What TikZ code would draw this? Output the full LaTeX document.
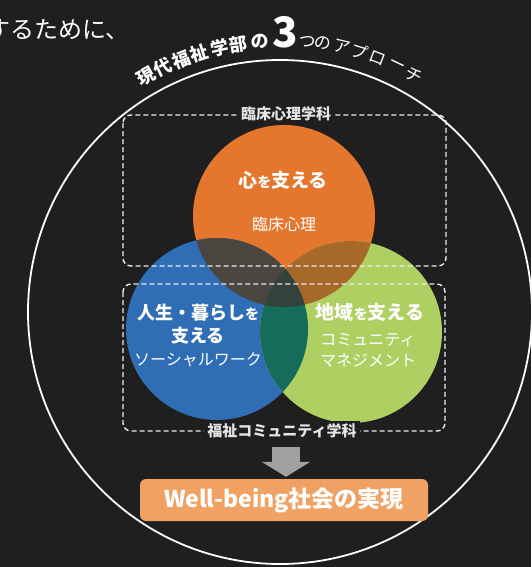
\documentclass[tikz,border=0pt]{standalone}
\usepackage{fontspec}
\setmainfont{Noto Sans CJK JP}
\usetikzlibrary{positioning, arrows.meta}

\definecolor{bgdark}{HTML}{1F1F1F}
\definecolor{kokoroOrange}{HTML}{E4762E}
\definecolor{kurashiBlue}{HTML}{2F6DB5}
\definecolor{chiikiGreen}{HTML}{AED062}
\definecolor{obMix}{HTML}{4B4540}
\definecolor{ogMix}{HTML}{A7692A}
\definecolor{bgMix}{HTML}{166C5A}
\definecolor{allMix}{HTML}{33423A}
\definecolor{arrowGray}{HTML}{A0A2A0}
\definecolor{goalOrange}{HTML}{EFA263}

\begin{document}
\begin{tikzpicture}[x=1pt, y=1pt,
  ringtext/.style={text=white, font=\bfseries\fontsize{18}{18}\selectfont, inner sep=0pt},
  ringkana/.style={text=white, font=\fontsize{17}{17}\selectfont, inner sep=0pt},
  kw/.style={text=white, font=\bfseries\fontsize{19}{23}\selectfont, align=center, inner sep=0pt},
  sub/.style={text=white, font=\fontsize{16}{21}\selectfont, align=center, inner sep=0pt},
  deptline/.style={white!92!black, line width=1.4pt, dash pattern=on 5pt off 3pt, rounded corners=8pt},
  deptlabel/.style={fill=bgdark, text=white!90!black, font=\bfseries\fontsize{15}{15}\selectfont, inner sep=3pt},
  bigarrow/.style={arrowGray, line width=28pt, -{Triangle[width=48pt, length=15pt]}},
  goalbox/.style={fill=goalOrange, rounded corners=6pt, minimum width=288pt, minimum height=42pt,
    text=white, font=\bfseries\fontsize{23}{23}\selectfont}]
\useasboundingbox (0,0) rectangle (531,-567);
\fill[bgdark] (0,0) rectangle (531,-567);

% lead text (cut at the left edge)
\node[anchor=east, text=white, font=\fontsize{24}{24}\selectfont, inner sep=0pt] (lead) at (130,-30) {するために、};

% outer ring and its title
\coordinate (ring) at (280,-312);
\draw[white, line width=1.8pt] (ring) circle (252);
\foreach \ch/\ang in {現/119.7, 代/115.6, 福/111.3, 祉/107.3, 学/102.9, 部/98.9, の/94.2}
  \node[ringtext, rotate=\ang-90] at ([shift={(\ang:271)}]ring) {\ch};
\foreach \ch/\ang in {つ/84.1, の/80.9, ア/76.8, プ/73.0, ロ/68.9, ー/64.6, チ/60.6}
  \node[ringkana, rotate=\ang-90] at ([shift={(\ang:272)}]ring) {\ch};
\node[text=white, font=\bfseries\fontsize{42}{42}\selectfont, inner sep=0pt] (three) at (285,-32) {3};

% three circles
\coordinate (cO) at (284,-216);
\coordinate (cB) at (217,-329);
\coordinate (cG) at (351,-332);
\fill[kokoroOrange] (cO) circle (91);
\fill[kurashiBlue] (cB) circle (91);
\fill[chiikiGreen] (cG) circle (91);
\begin{scope}
  \clip (cO) circle (91);
  \fill[obMix] (cB) circle (91);
  \fill[ogMix] (cG) circle (91);
\end{scope}
\begin{scope}
  \clip (cB) circle (91);
  \fill[bgMix] (cG) circle (91);
  \clip (cG) circle (91);
  \fill[allMix] (cO) circle (91);
\end{scope}

% departments
\draw[deptline] (123,-115) rectangle (446,-266);
\draw[deptline] (123,-284) rectangle (445,-431);
\node[deptlabel] (dept1) at (286,-114) {臨床心理学科};
\node[deptlabel] (dept2) at (282,-431) {福祉コミュニティ学科};

% circle texts
\node[kw] (kokoro) at (283,-180) {心{\fontsize{14}{14}\selectfont を}支える};
\node[sub] (rinsho) at (284,-224) {臨床心理};
\node[kw, font=\bfseries\fontsize{18}{23}\selectfont] (jinsei) at (198,-324) {人生・暮らし{\fontsize{14}{14}\selectfont を}\\支える};
\node[sub] (social) at (198,-360) {ソーシャルワーク};
\node[kw] (chiiki) at (370,-312) {地域{\fontsize{14}{14}\selectfont を}支える};
\node[sub] (commu) at (368,-350) {コミュニティ\\マネジメント};

% result
\node[goalbox] (goal) at (284,-500) {Well-being社会の実現};
\draw[bigarrow] (286,-447) -- ([xshift=2pt,yshift=2pt]goal.north);
\end{tikzpicture}
\end{document}
